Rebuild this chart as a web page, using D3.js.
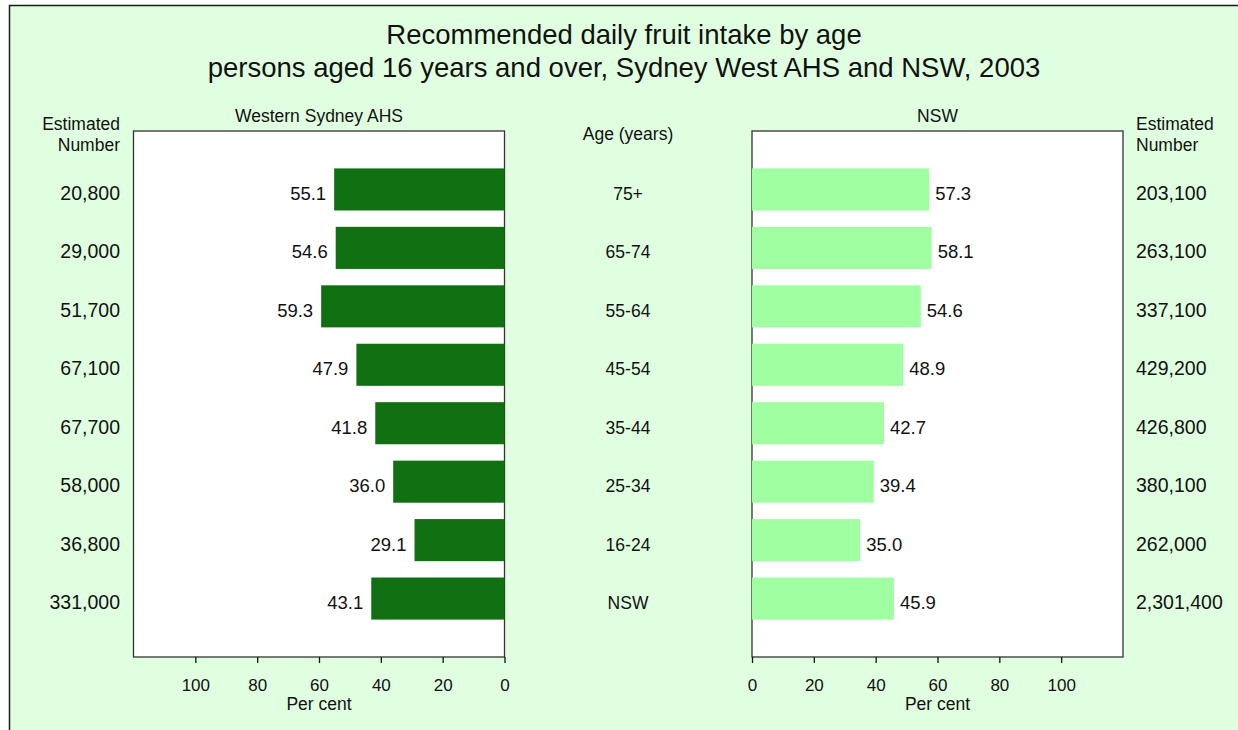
<!DOCTYPE html>
<html>
<head>
<meta charset="utf-8">
<script src="https://cdn.jsdelivr.net/npm/d3@7"></script>
<style>
  html, body { margin: 0; padding: 0; background: #ffffff; }
  svg text { font-family: "Liberation Sans", Arial, sans-serif; fill: #111; }
</style>
</head>
<body>
<svg id="chart" width="1238" height="730"></svg>
<script>
const ageGroups = ["75+", "65-74", "55-64", "45-54", "35-44", "25-34", "16-24", "NSW"];
const wsValues  = [55.1, 54.6, 59.3, 47.9, 41.8, 36.0, 29.1, 43.1];
const nswValues = [57.3, 58.1, 54.6, 48.9, 42.7, 39.4, 35.0, 45.9];
const wsNumbers  = ["20,800", "29,000", "51,700", "67,100", "67,700", "58,000", "36,800", "331,000"];
const nswNumbers = ["203,100", "263,100", "337,100", "429,200", "426,800", "380,100", "262,000", "2,301,400"];
const tickValues = [0, 20, 40, 60, 80, 100];
const titleLines = ["Recommended daily fruit intake by age",
                    "persons aged 16 years and over, Sydney West AHS and NSW, 2003"];

const svg = d3.select("#chart");

// background frame
svg.append("rect").attr("x", 9.5).attr("y", 5.5).attr("width", 1300).attr("height", 800)
  .attr("fill", "#e0ffe0").attr("stroke", "#1a1a1a").attr("stroke-width", 1.5);

// title
svg.selectAll("text.title").data(titleLines).join("text")
  .attr("class", "title")
  .attr("x", 624).attr("y", (d, i) => 43.5 + i * 33.5)
  .attr("text-anchor", "middle").style("font-size", "27.5px").text(d => d);

const plotTop = 131, plotBottom = 657;
const y = d3.scalePoint().domain(ageGroups).range([plotTop, plotBottom]).padding(1);
const barH = y.step() * 0.72;

const xL = d3.scaleLinear().domain([0, 120]).range([504.5, 133.5]);
const xR = d3.scaleLinear().domain([0, 120]).range([752, 1123]);

function panel(x, values, color, side) {
  const x0 = x.range()[0], x1 = x.range()[1];
  const left = Math.min(x0, x1), right = Math.max(x0, x1);
  svg.append("rect").attr("x", left).attr("y", plotTop).attr("width", right - left).attr("height", plotBottom - plotTop)
    .attr("fill", "#ffffff").attr("stroke", "#333").attr("stroke-width", 1.3);

  const g = svg.append("g");
  g.selectAll("rect").data(values).join("rect")
    .attr("x", d => Math.min(x(0), x(d)))
    .attr("y", (d, i) => y(ageGroups[i]) - barH / 2)
    .attr("width", d => Math.abs(x(d) - x(0)))
    .attr("height", barH)
    .attr("fill", color);

  g.selectAll("text").data(values).join("text")
    .attr("x", d => side === "left" ? x(d) - 8 : x(d) + 6)
    .attr("y", (d, i) => y(ageGroups[i]) + 10.5)
    .attr("text-anchor", side === "left" ? "end" : "start")
    .style("font-size", "18.5px")
    .text(d => d.toFixed(1));

  const axis = d3.axisBottom(x).tickValues(tickValues).tickSize(6).tickPadding(16).tickFormat(d3.format("d"));
  const ag = svg.append("g").attr("transform", `translate(0,${plotBottom})`).call(axis);
  ag.select(".domain").remove();
  ag.selectAll(".tick line").attr("stroke", "#111").attr("stroke-width", 1.3);
  ag.selectAll(".tick text").style("font-size", "17px").attr("fill", "#111");

  svg.append("text").attr("x", (left + right) / 2).attr("y", 710)
    .attr("text-anchor", "middle").style("font-size", "17.5px").text("Per cent");
}

panel(xL, wsValues, "#117011", "left");
panel(xR, nswValues, "#a0ffa0", "right");

// panel headers
svg.append("text").attr("x", (xL(0) + xL(120)) / 2).attr("y", 122).attr("text-anchor", "middle")
  .style("font-size", "17.5px").text("Western Sydney AHS");
svg.append("text").attr("x", (xR(0) + xR(120)) / 2).attr("y", 122).attr("text-anchor", "middle")
  .style("font-size", "17.5px").text("NSW");
svg.append("text").attr("x", 628).attr("y", 140).attr("text-anchor", "middle")
  .style("font-size", "17.5px").text("Age (years)");

// age labels
svg.selectAll("text.age").data(ageGroups).join("text").attr("class", "age")
  .attr("x", 628).attr("y", d => y(d) + 10.5).attr("text-anchor", "middle")
  .style("font-size", "17.5px").text(d => d);

// estimated numbers
[["Estimated", 130], ["Number", 151]].forEach(([t, yy]) => {
  svg.append("text").attr("x", 120).attr("y", yy).attr("text-anchor", "end").style("font-size", "17.5px").text(t);
  svg.append("text").attr("x", 1136).attr("y", yy).attr("text-anchor", "start").style("font-size", "17.5px").text(t);
});
svg.selectAll("text.wsn").data(wsNumbers).join("text").attr("class", "wsn")
  .attr("x", 120).attr("y", (d, i) => y(ageGroups[i]) + 10.5).attr("text-anchor", "end")
  .style("font-size", "19.5px").text(d => d);
svg.selectAll("text.nswn").data(nswNumbers).join("text").attr("class", "nswn")
  .attr("x", 1136).attr("y", (d, i) => y(ageGroups[i]) + 10.5).attr("text-anchor", "start")
  .style("font-size", "19.5px").text(d => d);
</script>
</body>
</html>
